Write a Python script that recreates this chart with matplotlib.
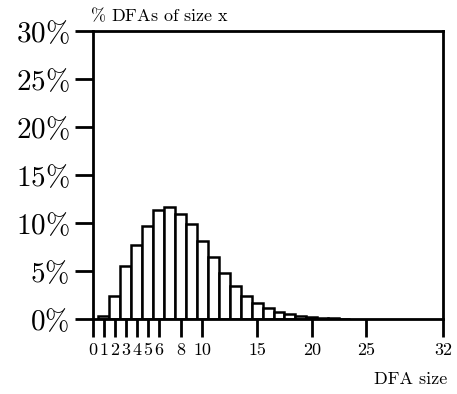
import matplotlib
matplotlib.use("Agg")
import matplotlib.pyplot as plt

plt.rcParams['font.family'] = ['cmr10', 'DejaVu Serif']
plt.rcParams['mathtext.fontset'] = 'cm'
plt.rcParams['axes.unicode_minus'] = False

# share of DFAs (in %) for each size
sizes = list(range(1, 24))
percent = [0.3, 2.4, 5.5, 7.7, 9.7, 11.4, 11.7, 10.9, 9.9, 8.1, 6.5,
           4.8, 3.4, 2.4, 1.7, 1.2, 0.7, 0.5, 0.35, 0.2, 0.12, 0.08, 0.05]

xticks = [0, 1, 2, 3, 4, 5, 6, 8, 10, 15, 20, 25, 32]
yticks = [0, 5, 10, 15, 20, 25, 30]

fig = plt.figure(figsize=(4.57, 3.94), dpi=100)
ax = fig.add_axes([0.2035, 0.19, 0.766, 0.731])

ax.bar(sizes, percent, width=1.0, facecolor='white', edgecolor='black',
       linewidth=1.8, zorder=2)

ax.set_xlim(0, 32)
ax.set_ylim(0, 30)
ax.set_xticks(xticks)
ax.set_xticklabels([str(t) for t in xticks], fontsize=13)
ax.set_yticks(yticks)
ax.set_yticklabels([r'$%d\%%$' % t for t in yticks], fontsize=21)

for s in ['left', 'bottom', 'top', 'right']:
    ax.spines[s].set_linewidth(2)
ax.tick_params(axis='both', direction='out', length=13, width=2,
               top=False, right=False)
ax.tick_params(axis='x', pad=4)
ax.tick_params(axis='y', pad=4)

fig.text(0.196, 0.963, r'$\%$ DFAs of size x', fontsize=13, ha='left', va='center')
fig.text(0.978, 0.038, 'DFA size', fontsize=13, ha='right', va='center')

fig.savefig('out.png', dpi=100)
